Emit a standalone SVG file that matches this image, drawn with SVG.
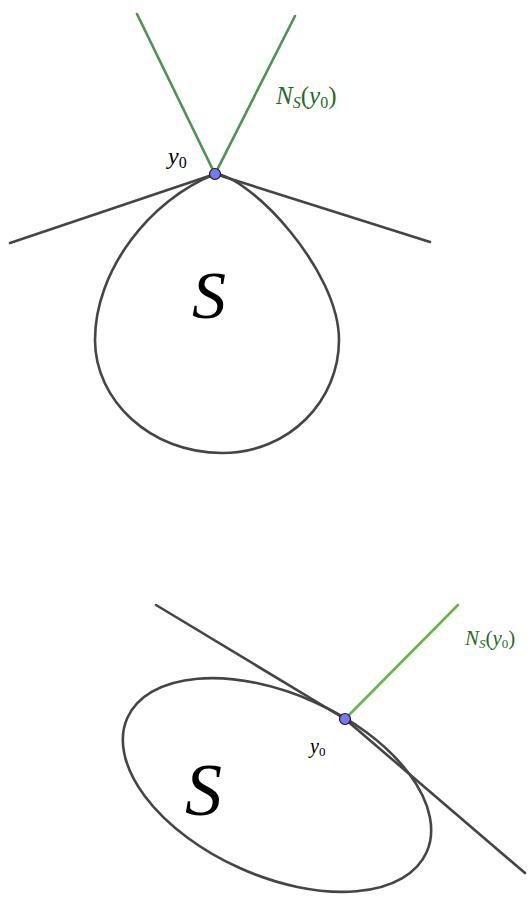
<svg xmlns="http://www.w3.org/2000/svg" width="531" height="898" viewBox="0 0 531 898">
<style>
.curve{fill:none;stroke:#454545;stroke-width:2.6;stroke-linejoin:round;stroke-linecap:round}
.pt{fill:#7878f6;stroke:#1a1a1a;stroke-width:1.2}
.m{font-family:"Liberation Serif","DejaVu Serif",serif;font-style:italic}
.sub{font-style:normal}
</style>
<rect width="531" height="898" fill="#fff"/>
<g id="top-set">
<path class="curve" d="M215,174 C250,176 339,270 339,340 C339,400 290,453 222,453 C150,453 95,400 95,340 C95,270 150,200 215,174 Z"/>
<text class="m" x="192" y="318" font-size="68">S</text>
</g>
<g id="top-connectors">
<path class="curve" d="M10,243 L215,174 L430,242"/>
<path fill="none" stroke="#4e9350" stroke-width="2.6" stroke-linecap="round" d="M137,14 L215,174 L295,16"/>
</g>
<g id="top-point">
<circle class="pt" cx="215" cy="174" r="5.5"/>
<text class="m" x="168" y="164" font-size="24">y<tspan class="sub" font-size="16" dy="4">0</tspan></text>
<text class="m" x="276" y="104" font-size="25" fill="#1f6e1f">N<tspan font-size="16" dy="4">S</tspan><tspan class="sub" dy="-4">(</tspan>y<tspan class="sub" font-size="16" dy="4">0</tspan><tspan class="sub" dy="-4">)</tspan></text>
</g>
<g id="bottom-set">
<ellipse class="curve" cx="277" cy="785" rx="164" ry="91" transform="rotate(24.2 277 785)"/>
<text class="m" x="185" y="815" font-size="74">S</text>
</g>
<g id="bottom-connectors">
<path class="curve" d="M156,605 L345,719 L525,873"/>
<path fill="none" stroke="#6cb34c" stroke-width="2.6" stroke-linecap="round" d="M345,719 L458,605"/>
</g>
<g id="bottom-point">
<circle class="pt" cx="345" cy="719" r="5.5"/>
<text class="m" x="310" y="753" font-size="20">y<tspan class="sub" font-size="13" dy="3">0</tspan></text>
<text class="m" x="465" y="645" font-size="21" fill="#1f6e1f">N<tspan font-size="13" dy="3">S</tspan><tspan class="sub" dy="-3">(</tspan>y<tspan class="sub" font-size="13" dy="3">0</tspan><tspan class="sub" dy="-3">)</tspan></text>
</g>
</svg>
